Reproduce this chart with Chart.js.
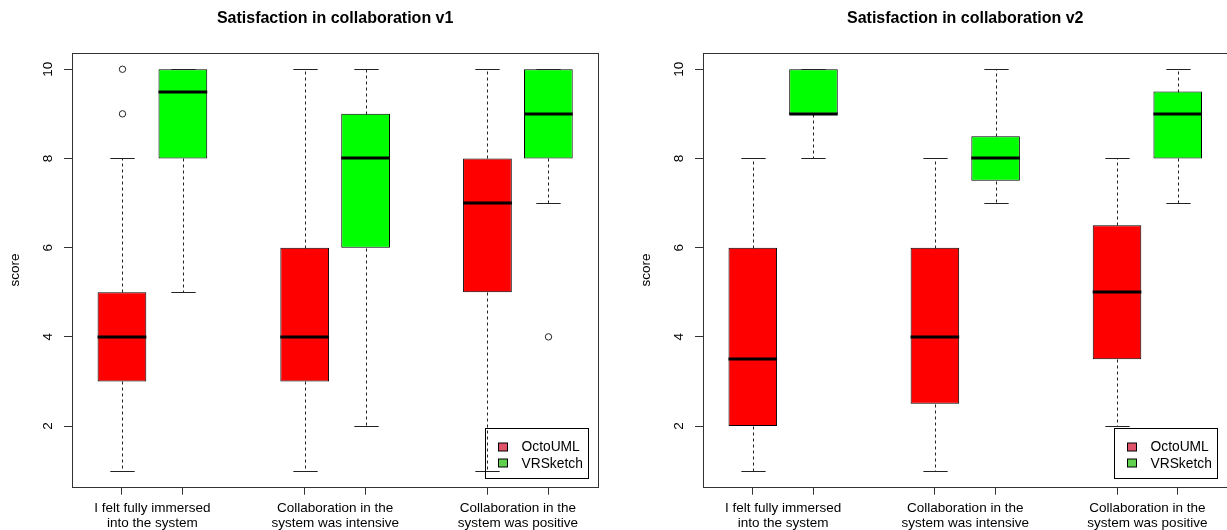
<!DOCTYPE html>
<html>
<head>
<meta charset="utf-8">
<script src="https://cdn.jsdelivr.net/npm/chart.js@4.4.1/dist/chart.umd.min.js"></script>
<style>
  html, body { margin: 0; padding: 0; background: #fff; overflow: hidden; width: 1227px; height: 530px; }
  canvas { position: absolute; top: 0; }
  #v1 { left: 0; }
  #v2 { left: 631px; }
</style>
</head>
<body>
<canvas id="v1" width="614" height="530"></canvas>
<canvas id="v2" width="614" height="530"></canvas>
<script>
// questions on the x axis (two lines each)
var categories = [
  ['I felt fully immersed', 'into the system'],
  ['Collaboration in the', 'system was intensive'],
  ['Collaboration in the', 'system was positive']
];
var seriesNames = ['OctoUML', 'VRSketch'];
var yTicks = [2, 4, 6, 8, 10];

// five-number summaries per question: [min, q1, median, q3, max]
var v1OctoUML  = [[1, 3, 4, 5, 8], [1, 3, 4, 6, 10], [1, 5, 7, 8, 10]];
var v1VRSketch = [[5, 8, 9.5, 10, 10], [2, 6, 8, 9, 10], [7, 8, 9, 10, 10]];
var v1OctoUMLOutliers  = [[9, 10], [], []];
var v1VRSketchOutliers = [[], [], [4]];

var v2OctoUML  = [[1, 2, 3.5, 6, 8], [1, 2.5, 4, 6, 8], [2, 3.5, 5, 6.5, 8]];
var v2VRSketch = [[8, 9, 9, 10, 10], [7, 7.5, 8, 8.5, 10], [7, 8, 9, 9.5, 10]];
var v2OctoUMLOutliers  = [[], [], []];
var v2VRSketchOutliers = [[], [], []];

var boxColors = ['#ff0000', '#00ff00'];
var legendColors = ['#df536b', '#61d04f'];

Chart.defaults.font.family = '"Liberation Sans", Arial, sans-serif';
Chart.defaults.color = '#000';

// whiskers, staples, medians and outliers on top of the floating bars
var boxExtras = {
  id: 'boxExtras',
  afterDatasetsDraw: function(chart) {
    var ctx = chart.ctx, y = chart.scales.y;
    var py = function(v) { return Math.round(y.getPixelForValue(v)) + 0.5; };
    chart.data.datasets.forEach(function(ds, di) {
      chart.getDatasetMeta(di).data.forEach(function(bar, i) {
        var s = ds.stats[i];
        var cx = Math.round(bar.x) + 0.5;
        var half = bar.width / 2;
        ctx.save();
        ctx.strokeStyle = '#222';
        ctx.lineWidth = 1;
        ctx.setLineDash([3, 3]);
        ctx.beginPath();
        ctx.moveTo(cx, py(s[1])); ctx.lineTo(cx, py(s[0]));
        ctx.moveTo(cx, py(s[3])); ctx.lineTo(cx, py(s[4]));
        ctx.stroke();
        ctx.setLineDash([]);
        ctx.beginPath();
        [s[0], s[4]].forEach(function(v) {
          ctx.moveTo(cx - half / 2, py(v)); ctx.lineTo(cx + half / 2, py(v));
        });
        ctx.stroke();
        ctx.strokeStyle = '#000';
        ctx.lineWidth = 3;
        var m = Math.round(y.getPixelForValue(s[2]));
        ctx.beginPath();
        ctx.moveTo(bar.x - half, m); ctx.lineTo(bar.x + half, m);
        ctx.stroke();
        ctx.lineWidth = 1;
        ctx.strokeStyle = '#222';
        (ds.outliers[i] || []).forEach(function(v) {
          ctx.beginPath();
          ctx.arc(cx, y.getPixelForValue(v), 3.2, 0, Math.PI * 2);
          ctx.stroke();
        });
        ctx.restore();
      });
    });
  },
  afterDraw: function(chart) {
    var ctx = chart.ctx, a = chart.chartArea;
    ctx.save();
    // plot frame
    ctx.strokeStyle = '#333';
    ctx.lineWidth = 1;
    ctx.strokeRect(Math.round(a.left) + 0.5, Math.round(a.top) + 0.5,
                   Math.round(a.right - a.left), Math.round(a.bottom - a.top));
    // legend in the bottom right corner
    var lw = 103, lh = 50;
    var lx = Math.round(a.right - 0.02 * (a.right - a.left) - lw) + 0.5;
    var ly = Math.round(a.bottom - 0.02 * (a.bottom - a.top) - lh) + 0.5;
    ctx.strokeStyle = '#000';
    ctx.strokeRect(lx, ly, lw, lh);
    ctx.font = '13.8px "Liberation Sans", Arial, sans-serif';
    ctx.textBaseline = 'middle';
    ctx.fillStyle = '#000';
    chart.data.datasets.forEach(function(ds, k) {
      var cy = ly + 18 + k * 16.6;
      ctx.fillStyle = ds.legendColor;
      ctx.fillRect(lx + 13, Math.round(cy - 4), 9, 8);
      ctx.strokeRect(lx + 13, Math.round(cy - 4), 9, 8);
      ctx.fillStyle = '#000';
      ctx.fillText(ds.label, lx + 36, cy + 1);
    });
    ctx.restore();
  }
};

function makeDataset(s, stats, outliers) {
  return {
    label: seriesNames[s],
    data: stats.map(function(st, i) { return { x: 3 * i + 1 + s, y: [st[1], st[3]] }; }),
    stats: stats,
    outliers: outliers,
    legendColor: legendColors[s],
    backgroundColor: boxColors[s],
    borderColor: '#000',
    borderWidth: 1,
    borderSkipped: false,
    grouped: false,
    barPercentage: 0.8,
    categoryPercentage: 1
  };
}

function makePanel(id, title, octo, vr, octoOut, vrOut, padRight) {
  var boxPositions = [1, 2, 4, 5, 7, 8];
  return new Chart(document.getElementById(id), {
    type: 'bar',
    data: {
      datasets: [makeDataset(0, octo, octoOut), makeDataset(1, vr, vrOut)]
    },
    options: {
      responsive: false,
      animation: false,
      events: [],
      layout: { padding: { left: 0, right: padRight, top: 0, bottom: 0 } },
      plugins: {
        legend: { display: false },
        tooltip: { enabled: false },
        title: {
          display: true,
          text: title,
          fullSize: false,
          color: '#000',
          font: { size: 16, weight: 'bold', lineHeight: 1.2 },
          padding: { top: 9, bottom: 25 }
        }
      },
      scales: {
        x: {
          type: 'linear',
          position: 'bottom',
          weight: 0,
          min: 0.18,
          max: 8.82,
          offset: false,
          afterBuildTicks: function(s) { s.ticks = boxPositions.map(function(v) { return { value: v }; }); },
          ticks: { display: false },
          grid: { offset: false, drawOnChartArea: false, drawTicks: true, tickLength: 8, color: '#333' },
          border: { display: false }
        },
        xl: {
          type: 'linear',
          position: 'bottom',
          weight: 1,
          min: 0.18,
          max: 8.82,
          offset: false,
          afterBuildTicks: function(s) { s.ticks = [1.5, 4.5, 7.5].map(function(v) { return { value: v }; }); },
          afterFit: function(s) { s.height = 35.3; },
          ticks: {
            autoSkip: false,
            maxRotation: 0,
            padding: -2.5,
            color: '#000',
            font: { size: 13.5, lineHeight: 1.13 },
            callback: function(v) { return categories[Math.round((v - 1.5) / 3)]; }
          },
          grid: { display: false, offset: false },
          border: { display: false }
        },
        y: {
          type: 'linear',
          min: 0.64,
          max: 10.36,
          afterBuildTicks: function(s) { s.ticks = yTicks.map(function(v) { return { value: v }; }); },
          afterFit: function(s) { s.width = 72; },
          ticks: {
            minRotation: 90,
            maxRotation: 90,
            crossAlign: 'center',
            padding: 8.5,
            color: '#000',
            font: { size: 13.5 }
          },
          grid: { drawOnChartArea: false, drawTicks: true, tickLength: 8, color: '#333' },
          border: { display: false },
          title: {
            display: true,
            text: 'score',
            color: '#000',
            font: { size: 13.5, lineHeight: 1.2 },
            padding: { top: 7, bottom: 0 }
          }
        }
      }
    },
    plugins: [boxExtras]
  });
}

makePanel('v1', 'Satisfaction in collaboration v1', v1OctoUML, v1VRSketch, v1OctoUMLOutliers, v1VRSketchOutliers, 15.7);
makePanel('v2', 'Satisfaction in collaboration v2', v2OctoUML, v2VRSketch, v2OctoUMLOutliers, v2VRSketchOutliers, 17.5);
</script>
</body>
</html>
